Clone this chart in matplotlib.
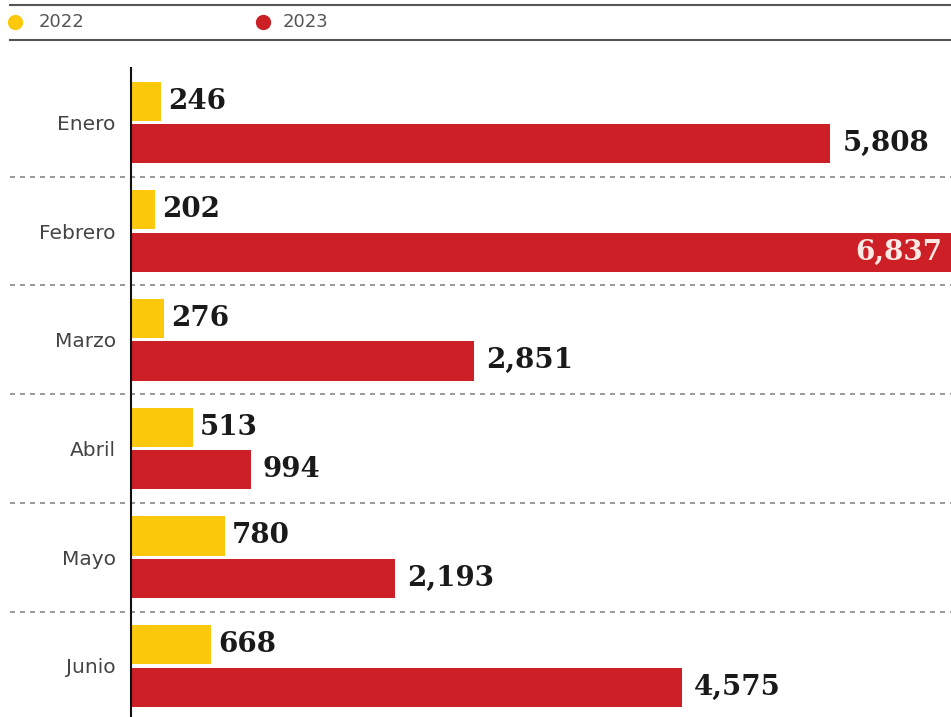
import matplotlib.pyplot as plt
from matplotlib.lines import Line2D
import numpy as np

meses = ['Enero', 'Febrero', 'Marzo', 'Abril', 'Mayo', 'Junio']
valores_2022 = [246, 202, 276, 513, 780, 668]
valores_2023 = [5808, 6837, 2851, 994, 2193, 4575]

amarillo = '#FCC80C'
rojo = '#CC1F26'

fig = plt.figure(figsize=(9.51, 7.17), dpi=100)
ax = fig.add_axes([131 / 951, 0, 1 - 131 / 951, 1 - 68 / 717])

y = np.arange(len(meses))
alto = 0.36
off = 0.195

ax.barh(y - off, valores_2022, height=alto, color=amarillo, zorder=2)
ax.barh(y + off, valores_2023, height=alto, color=rojo, zorder=2)

ax.set_xlim(0, 6810)
ax.set_ylim(5.47, -0.5)

# etiquetas de valores
for i in range(len(meses)):
    ax.text(valores_2022[i] + 60, y[i] - off, f'{valores_2022[i]:,}',
            va='center', ha='left', fontsize=20, fontweight='bold',
            family='DejaVu Serif', color='#1a1a1a')
    v = valores_2023[i]
    if v > 6200:
        ax.text(6740, y[i] + off, f'{v:,}', va='center', ha='right',
                fontsize=20, fontweight='bold', family='DejaVu Serif',
                color='#fbe9e4', clip_on=False)
    else:
        ax.text(v + 100, y[i] + off, f'{v:,}', va='center', ha='left',
                fontsize=20, fontweight='bold', family='DejaVu Serif',
                color='#1a1a1a')

ax.set_yticks(y)
ax.set_yticklabels(meses, fontsize=14.5, color='#444444')
ax.tick_params(axis='y', length=0, pad=11)
ax.set_xticks([])

for s in ['top', 'right', 'bottom']:
    ax.spines[s].set_visible(False)
ax.spines['left'].set_color('#111111')
ax.spines['left'].set_linewidth(1.5)
ax.spines['left'].set_zorder(3)

# separadores punteados entre meses
x0 = ax.transData.inverted().transform(fig.transFigure.transform((10 / 951, 0)))[0]
for i in range(len(meses) - 1):
    ax.plot([x0, 6810], [i + 0.5, i + 0.5], linestyle=(0, (3, 3)),
            color='#888888', linewidth=1.2, clip_on=False, zorder=1)

# leyenda arriba
fig.add_artist(Line2D([10 / 951, 1], [1 - 5 / 717, 1 - 5 / 717],
                      color='#555555', linewidth=1.5))
fig.add_artist(Line2D([10 / 951, 1], [1 - 40 / 717, 1 - 40 / 717],
                      color='#555555', linewidth=1.5))
ly = 1 - 22 / 717
fig.add_artist(Line2D([15 / 951], [ly], marker='o', markersize=10,
                      color=amarillo, linestyle='none'))
fig.text(39 / 951, ly, '2022', va='center', ha='left', fontsize=13, color='#555555')
fig.add_artist(Line2D([263 / 951], [ly], marker='o', markersize=10,
                      color=rojo, linestyle='none'))
fig.text(283 / 951, ly, '2023', va='center', ha='left', fontsize=13, color='#555555')

fig.savefig('out.png', dpi=100)
